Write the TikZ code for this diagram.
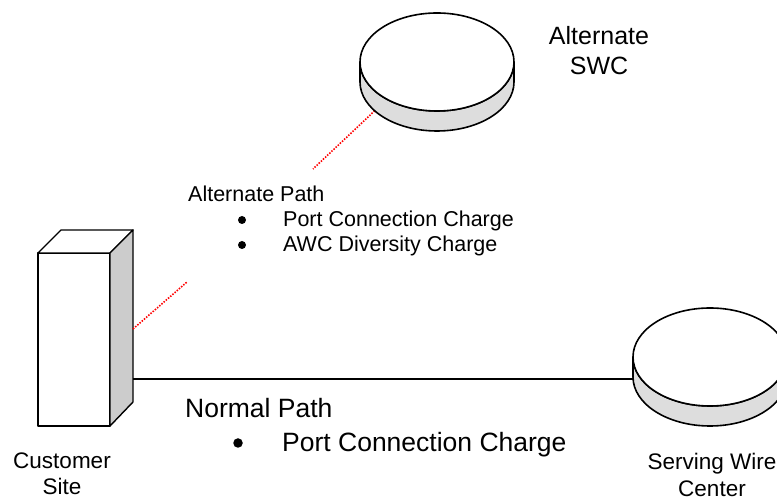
\documentclass[tikz,border=0pt]{standalone}
\usepackage{fontspec}
\setmainfont{Liberation Sans}
\usepackage{tikz}
\usetikzlibrary{calc}
\definecolor{ink}{HTML}{000000}
\definecolor{rim}{HTML}{DDDDDD}
\definecolor{shade}{HTML}{CCCCCC}
\definecolor{alt}{HTML}{FF0000}
\tikzset{
  base/.style={draw=ink, line width=1.4pt, line join=round},
  disc/.style={draw=ink, line width=1.6pt},
  link/.style={draw=ink, line width=1.3pt},
  altlink/.style={draw=alt, line width=1.6pt, dash pattern=on 1.5pt off 1.4pt},
  dot/.style={circle, fill=ink, inner sep=0pt, minimum size=8pt},
  dotb/.style={circle, fill=ink, inner sep=0pt, minimum size=9.5pt},
  lab/.style={text=ink, inner sep=0pt, font=\fontsize{21.5}{25}\selectfont},
  labb/.style={text=ink, inner sep=0pt, font=\fontsize{26.5}{34}\selectfont},
  site/.style={text=ink, inner sep=0pt, align=center, font=\fontsize{22.5}{26.5}\selectfont},
  sitel/.style={text=ink, inner sep=0pt, align=center, font=\fontsize{25}{30}\selectfont},
}

\begin{document}
\begin{tikzpicture}[x=1pt,y=1pt]
  \useasboundingbox (0,0) rectangle (777,500);
  \def\rx{77}
  \def\ry{49}
  \def\h{20}
  \coordinate (A) at (437,438);
  \coordinate (S) at (710,143);
  % connector ends
  \coordinate (cust-n) at (133,121);
  \coordinate (cust-a) at (133,171);
  \coordinate (alt-end) at (187,218);
  \coordinate (swc-w) at (633.5,121);
  \coordinate (altswc-s) at (374.7,389.2);
  \coordinate (alt-tail) at (313,331);
  % customer site box
  \filldraw[base,fill=white] (38,74) rectangle (110,247);
  \filldraw[base,fill=white] (38,247) -- (61,270) -- (133,270) -- (110,247) -- cycle;
  \filldraw[base,fill=shade] (110,247) -- (133,270) -- (133,98) -- (110,74) -- cycle;
  % paths
  \draw[link] (cust-n) -- (swc-w);
  \draw[altlink] (cust-a) -- (alt-end);
  \draw[altlink] (altswc-s) -- (alt-tail);
  % wire centers
  \foreach \c in {A,S}{
    \filldraw[disc,fill=rim] ($(\c)+(-\rx,0)$) -- ++(0,-\h)
      arc[start angle=180,end angle=360,x radius=\rx,y radius=\ry] -- ++(0,\h)
      arc[start angle=0,end angle=-180,x radius=\rx,y radius=\ry] -- cycle;
    \filldraw[disc,fill=white] (\c) ellipse[x radius=\rx,y radius=\ry];
  }
  % labels (base = last line)
  \node[sitel,anchor=base] (altswc) at (599,425) {Alternate\\SWC};
  \node[lab,anchor=base west] (altpath) at (188,298) {Alternate Path};
  \node[dot] (b1) at (242,280) {};
  \node[lab,anchor=base west] (altport) at (283,273) {Port Connection Charge};
  \node[dot] (b2) at (242,255) {};
  \node[lab,anchor=base west] (awc) at (283,248) {AWC Diversity Charge};
  \node[labb,anchor=base west] (normpath) at (185,82) {Normal Path};
  \node[dotb] (b3) at (238,57) {};
  \node[labb,anchor=base west] (normport) at (282,48) {Port Connection Charge};
  \node[site,anchor=base] (cust) at (62,5) {Customer\\Site};
  \node[site,anchor=base] (swc) at (712,3.5) {Serving Wire\\Center};
\end{tikzpicture}
\end{document}
